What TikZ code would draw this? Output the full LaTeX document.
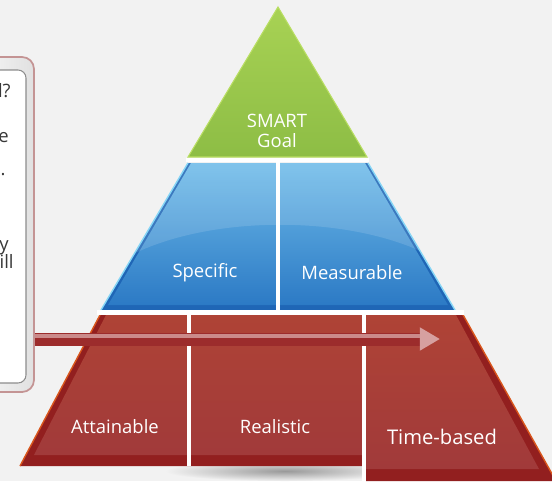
\documentclass[tikz,border=0pt]{standalone}
\usepackage{fontspec}
\setmainfont{Open Sans}
\usetikzlibrary{arrows.meta}

\definecolor{bg}{HTML}{F2F2F2}
\definecolor{goaltop}{HTML}{A8D254}
\definecolor{goalbot}{HTML}{8DBD45}
\definecolor{goaledge}{HTML}{B9DE62}
\definecolor{bluetop}{HTML}{6EBBE9}
\definecolor{bluebot}{HTML}{2C7AC5}
\definecolor{bluedark}{HTML}{1F66B6}
\definecolor{blueedge}{HTML}{86D6F6}
\definecolor{redtop}{HTML}{AF4336}
\definecolor{redbot}{HTML}{A13A3A}
\definecolor{reddark}{HTML}{921F1F}
\definecolor{rededge}{HTML}{D9561C}
\definecolor{arrowred}{HTML}{9C2C2C}
\definecolor{arrowhi}{HTML}{CB8A8A}
\definecolor{headpink}{HTML}{D6A0A0}
\definecolor{boxedge}{HTML}{C49494}
\definecolor{ink}{HTML}{383838}

\tikzset{
  gap/.style={white,line width=2.8pt},
  tier/.style={text=white,font=\fontsize{10.5}{11}\selectfont,align=center},
  frag/.style={text=ink,font=\fontsize{10.5}{12}\selectfont,anchor=base east,inner sep=0pt},
  progress/.style={arrowred,line width=7.4pt,-{Triangle[length=11.5pt,width=12.5pt,color=headpink]}},
  sheen/.style={arrowhi,line width=2.6pt}
}

\begin{document}
\begin{tikzpicture}[x=0.2mm,y=-0.2mm]
\fill[bg] (0,0) rectangle (552,481);
\useasboundingbox (0,0) rectangle (552,481);

\shade[inner color=black!40,outer color=bg] (285,471) ellipse (120 and 10);

\node[draw=boxedge,line width=1pt,rounded corners=2.4mm,left color=white,right color=black!12,
  minimum width=15.6mm,minimum height=67mm] (quest) at (-5,224.5) {};
\node[draw=black!45,line width=0.6pt,rounded corners=1.6mm,fill=white,
  minimum width=14mm,minimum height=62.6mm] (inner) at (-9,226.5) {};
\node[frag] (f1) at (11,97) {l?};
\node[frag] (f2) at (9,142) {e};
\node[frag] (f3) at (6,175) {.};
\node[frag] (f4) at (9,250) {y};
\node[frag] (f5) at (14,268) {ill};

\shade[top color=goaltop,bottom color=goalbot,draw=goaledge,line width=0.6pt]
  (278,7) -- (367,157) -- (188,157) -- cycle;

\fill[bluedark] (188,163) -- (368,163) -- (455,310) -- (101,310) -- cycle;
\shade[top color=bluetop,bottom color=bluebot] (191,163) -- (365,163) -- (448,305) -- (108,305) -- cycle;
\begin{scope}
  \clip (188,163) -- (368,163) -- (455,310) -- (101,310) -- cycle;
  \fill[white,opacity=0.13] (100,275) .. controls (180,208) and (380,208) .. (460,275) -- (460,150) -- (100,150) -- cycle;
\end{scope}
\draw[blueedge,line width=0.8pt] (188,163) -- (101,310) (368,163) -- (455,310);

\fill[reddark] (100,315) -- (362,315) -- (362,466) -- (20,466) -- cycle;
\shade[top color=redtop,bottom color=redbot] (106,315) -- (362,315) -- (362,455) -- (34,455) -- cycle;
\draw[rededge,line width=0.8pt] (100,315) -- (20,466);

\fill[reddark] (366,313) -- (462,313) -- (556,481) -- (366,481) -- cycle;
\shade[top color=redtop,bottom color=redbot] (366,315) -- (456,315) -- (539,469) -- (366,469) -- cycle;
\draw[rededge,line width=0.8pt] (462,313) -- (556,481);

\draw[gap] (186,160) -- (369,160);
\draw[gap] (278,160) -- (278,311);
\draw[gap] (97,312.5) -- (464,312.5);
\draw[gap] (189,312) -- (189,466);
\draw[gap,line width=2.4pt] (364,312) -- (364,481);

\node[tier] (smart) at (277,131) {SMART\\Goal};
\node[tier] (spec) at (205,273) {Specific};
\node[tier] (meas) at (352,273) {Measurable};
\node[tier] (att) at (115,427) {Attainable};
\node[tier] (real) at (275,427) {Realistic};
\node[tier,font=\fontsize{11.5}{12}\selectfont] (time) at (442,437) {Time-based};

\coordinate (tip) at (440,339);
\draw[progress] (quest.east |- tip) -- (tip);
\draw[sheen,transform canvas={yshift=1.8pt}] (quest.east |- tip) -- ([xshift=-11.5pt]tip);
\end{tikzpicture}
\end{document}
